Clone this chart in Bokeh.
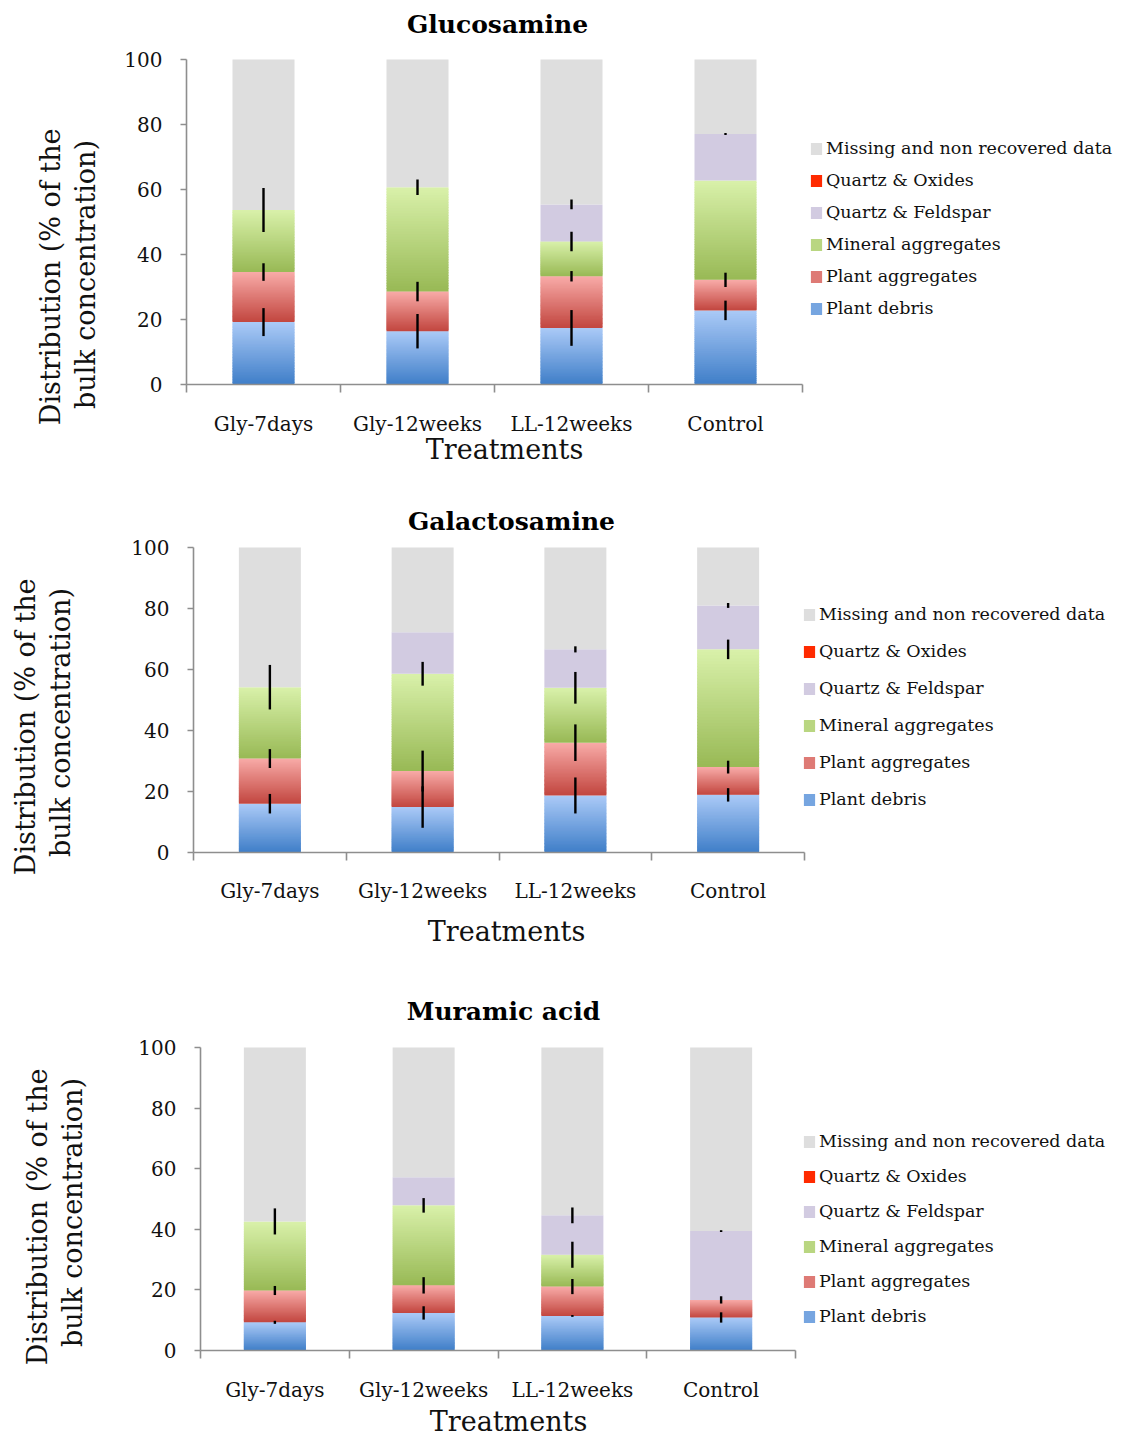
import numpy as np
from bokeh.plotting import figure
from bokeh.models import Range1d, FixedTicker, Label, Legend, LegendItem, LinearAxis
from bokeh.layouts import column
from bokeh.embed import file_html
from bokeh.resources import INLINE

# ---------------- data ----------------
categories = ["Gly-7days", "Gly-12weeks", "LL-12weeks", "Control"]
series_names = ["Plant debris", "Plant aggregates", "Mineral aggregates",
                "Quartz & Feldspar", "Quartz & Oxides", "Missing and non recovered data"]
y_ticks = [0, 20, 40, 60, 80, 100]

# Glucosamine (segment heights, % of bulk concentration)
glc_debris = [19.2, 16.4, 17.4, 22.8]
glc_plant_agg = [15.4, 12.2, 15.9, 9.4]
glc_mineral = [19.1, 32.1, 10.7, 30.6]
glc_feldspar = [0.0, 0.0, 11.4, 14.3]
glc_oxides = [0.0, 0.0, 0.0, 0.0]
glc_err_debris = [4.3, 5.3, 5.5, 3.0]
glc_err_plant_agg = [2.7, 3.0, 1.6, 2.2]
glc_err_mineral = [6.8, 2.4, 3.0, 0.0]
glc_err_feldspar = [0.0, 0.0, 1.5, 0.3]

# Galactosamine
gal_debris = [16.0, 14.9, 18.7, 18.9]
gal_plant_agg = [14.8, 11.8, 17.3, 9.1]
gal_mineral = [23.4, 31.9, 18.0, 38.6]
gal_feldspar = [0.0, 13.6, 12.6, 14.4]
gal_oxides = [0.0, 0.0, 0.0, 0.0]
gal_err_debris = [3.2, 6.8, 5.9, 2.2]
gal_err_plant_agg = [3.1, 6.7, 6.0, 2.1]
gal_err_mineral = [7.3, 3.9, 5.2, 3.2]
gal_err_feldspar = [0.0, 0.0, 1.0, 0.8]

# Muramic acid
mur_debris = [9.3, 12.4, 11.4, 10.9]
mur_plant_agg = [10.5, 9.1, 9.7, 5.8]
mur_mineral = [22.8, 26.4, 10.5, 0.0]
mur_feldspar = [0.0, 9.3, 13.0, 22.7]
mur_oxides = [0.0, 0.0, 0.0, 0.0]
mur_err_debris = [0.5, 2.2, 0.3, 1.7]
mur_err_plant_agg = [1.5, 2.7, 2.5, 1.2]
mur_err_mineral = [4.3, 2.4, 4.3, 0.0]
mur_err_feldspar = [0.0, 0.0, 2.6, 0.3]

# ---------------- style ----------------
FONT = "DejaVu Serif"
TXT = "#111111"
AXIS = "#8e8e8e"
W = 1120
# (bottom colour, top colour) for gradient fills
STYLES = {
    "Plant debris": ("#3f7ec8", "#abcaf7"),
    "Plant aggregates": ("#c2463f", "#f8aba8"),
    "Mineral aggregates": ("#98b955", "#d9f1aa"),
    "Quartz & Feldspar": ("#d2cbe1", "#d2cbe1"),
    "Quartz & Oxides": ("#ff2a00", "#ff2a00"),
    "Missing and non recovered data": ("#dedede", "#dedede"),
}
GRADIENT = {"Plant debris", "Plant aggregates", "Mineral aggregates"}


def mix(c1, c2, t):
    a = np.array([int(c1[i:i + 2], 16) for i in (1, 3, 5)], float)
    b = np.array([int(c2[i:i + 2], 16) for i in (1, 3, 5)], float)
    c = a + (b - a) * t
    return "#%02x%02x%02x" % tuple(int(round(v)) for v in c)


def build(title, segs, errs, g):
    n = len(categories)
    ppu_x = (g["axis_right"] - g["axis_left"]) / n
    ppu_y = (g["frame_bottom"] - g["frame_top"]) / 100.0

    def dx(px):
        return (px - g["axis_left"]) / ppu_x

    def dy(py):
        return (g["frame_bottom"] - py) / ppu_y

    H = g["height"]
    p = figure(width=W, height=H,
               x_range=Range1d(dx(0), dx(W)),
               y_range=Range1d(dy(g["fig_top"] + H), dy(g["fig_top"])),
               output_backend="svg", toolbar_location=None,
               x_axis_location=None, y_axis_location=None,
               min_border=0)
    p.outline_line_color = None
    p.xgrid.visible = False
    p.ygrid.visible = False
    p.background_fill_color = "white"
    p.border_fill_color = "white"

    xs = np.arange(n) + 0.5
    bw = 62.0 / ppu_x
    base = np.zeros(n)
    tops = {}
    rend = {}
    seg_list = list(segs) + [None]
    for name, vals in zip(series_names, seg_list):
        if vals is None:
            vals = 100.0 - base
        vals = np.asarray(vals, float)
        c_bot, c_top = STYLES[name]
        nsl = 40 if name in GRADIENT else 1
        L, R, B, T, C = [], [], [], [], []
        for i in range(n):
            b0, t0 = base[i], base[i] + max(vals[i], 0.0)
            for k in range(nsl):
                sb = b0 + (t0 - b0) * k / nsl
                st = b0 + (t0 - b0) * (k + 1) / nsl
                if k < nsl - 1 and t0 > b0:
                    st = min(t0, st + 0.3)
                L.append(xs[i] - bw / 2)
                R.append(xs[i] + bw / 2)
                B.append(sb)
                T.append(st)
                C.append(mix(c_bot, c_top, (k + 0.5) / nsl))
        rend[name] = (p.quad(left=L, right=R, bottom=B, top=T, fill_color=C, line_color=None), nsl // 2)
        base = base + vals
        tops[name] = base.copy()

    # error bars
    for name, e in zip(series_names[:4], errs):
        e = np.asarray(e, float)
        m = e > 0
        t = tops[name]
        p.segment(x0=xs[m], y0=(t - e)[m], x1=xs[m], y1=(t + e)[m],
                  line_color="black", line_width=2.4)

    # axes, fixed at the data origin
    xa = LinearAxis(fixed_location=0)
    xa.ticker = FixedTicker(ticks=list(xs), minor_ticks=list(range(n + 1)))
    xa.major_label_overrides = {float(x): c for x, c in zip(xs, categories)}
    xa.bounds = (0, n)
    xa.axis_line_color = AXIS
    xa.axis_line_width = 1.6
    xa.major_tick_out = 0
    xa.major_tick_in = 0
    xa.minor_tick_out = 8
    xa.minor_tick_in = 0
    xa.minor_tick_line_color = AXIS
    xa.minor_tick_line_width = 1.6
    xa.major_label_standoff = g["xlab_standoff"]
    xa.major_label_text_font = FONT
    xa.major_label_text_font_size = "20px"
    xa.major_label_text_color = TXT
    p.add_layout(xa, "below")

    ya = LinearAxis(fixed_location=0)
    ya.ticker = FixedTicker(ticks=y_ticks, minor_ticks=[])
    ya.bounds = (0, 100)
    ya.axis_line_color = AXIS
    ya.axis_line_width = 1.6
    ya.major_tick_line_color = AXIS
    ya.major_tick_line_width = 1.6
    ya.major_tick_out = 6
    ya.major_tick_in = 0
    ya.minor_tick_line_color = None
    ya.major_label_standoff = 18
    ya.major_label_text_font = FONT
    ya.major_label_text_font_size = "20px"
    ya.major_label_text_color = TXT
    p.add_layout(ya, "left")

    # texts
    tx, ty = g["title"]
    p.add_layout(Label(x=dx(tx), y=dy(ty), text=title, text_font=FONT, text_font_size="25px",
                       text_font_style="bold", text_align="center", text_baseline="middle",
                       text_color="black"))
    tx, ty = g["treat"]
    p.add_layout(Label(x=dx(tx), y=dy(ty), text="Treatments", text_font=FONT, text_font_size="27px",
                       text_align="center", text_baseline="middle", text_color=TXT))
    for (lx, ly), txt in zip(g["ylab"], ["Distribution  (% of the", "bulk concentration)"]):
        p.add_layout(Label(x=dx(lx), y=dy(ly), text=txt, text_font=FONT, text_font_size="27px",
                           text_align="center", text_baseline="middle", angle=np.pi / 2,
                           text_color=TXT))

    # legend (top entry first)
    items = []
    for name in reversed(series_names):
        r, idx = rend[name]
        items.append(LegendItem(label=name, renderers=[r], index=idx))
    item_h = 22
    pitch = g["leg_pitch"]
    spacing = int(round(pitch - item_h))
    leg_h = 6 * item_h + 5 * spacing
    leg_top = g["leg_first"] - item_h / 2
    vy = (g["fig_top"] + H) - (leg_top + leg_h)
    vx = g["leg_left"]
    leg = Legend(items=items, location=(vx, vy), padding=0, margin=0, spacing=spacing,
                 label_height=item_h, glyph_height=15, glyph_width=14, label_standoff=3,
                 label_text_font=FONT, label_text_font_size="17.5px", label_text_color=TXT,
                 border_line_color=None, background_fill_alpha=0)
    p.add_layout(leg)
    return p


g1 = dict(fig_top=0, height=490, frame_top=59, frame_bottom=384, axis_left=186, axis_right=802,
          xlab_standoff=19, title=(497, 24), treat=(504, 449), ylab=[(50, 272), (85, 274)],
          leg_left=809, leg_first=148, leg_pitch=32.5)
g2 = dict(fig_top=490, height=495, frame_top=547, frame_bottom=852, axis_left=193, axis_right=804,
          xlab_standoff=18, title=(511, 521), treat=(506, 931), ylab=[(25, 722), (60, 722)],
          leg_left=802, leg_first=614, leg_pitch=36.8)
g3 = dict(fig_top=985, height=455, frame_top=1047, frame_bottom=1350, axis_left=200, axis_right=795,
          xlab_standoff=19, title=(503, 1011), treat=(508, 1421), ylab=[(37, 1212), (72, 1212)],
          leg_left=802, leg_first=1141, leg_pitch=35)

p1 = build("Glucosamine",
           [glc_debris, glc_plant_agg, glc_mineral, glc_feldspar, glc_oxides],
           [glc_err_debris, glc_err_plant_agg, glc_err_mineral, glc_err_feldspar], g1)
p2 = build("Galactosamine",
           [gal_debris, gal_plant_agg, gal_mineral, gal_feldspar, gal_oxides],
           [gal_err_debris, gal_err_plant_agg, gal_err_mineral, gal_err_feldspar], g2)
p3 = build("Muramic acid",
           [mur_debris, mur_plant_agg, mur_mineral, mur_feldspar, mur_oxides],
           [mur_err_debris, mur_err_plant_agg, mur_err_mineral, mur_err_feldspar], g3)

layout = column(p1, p2, p3, spacing=0)
open("out.html", "w").write(file_html(layout, INLINE))
